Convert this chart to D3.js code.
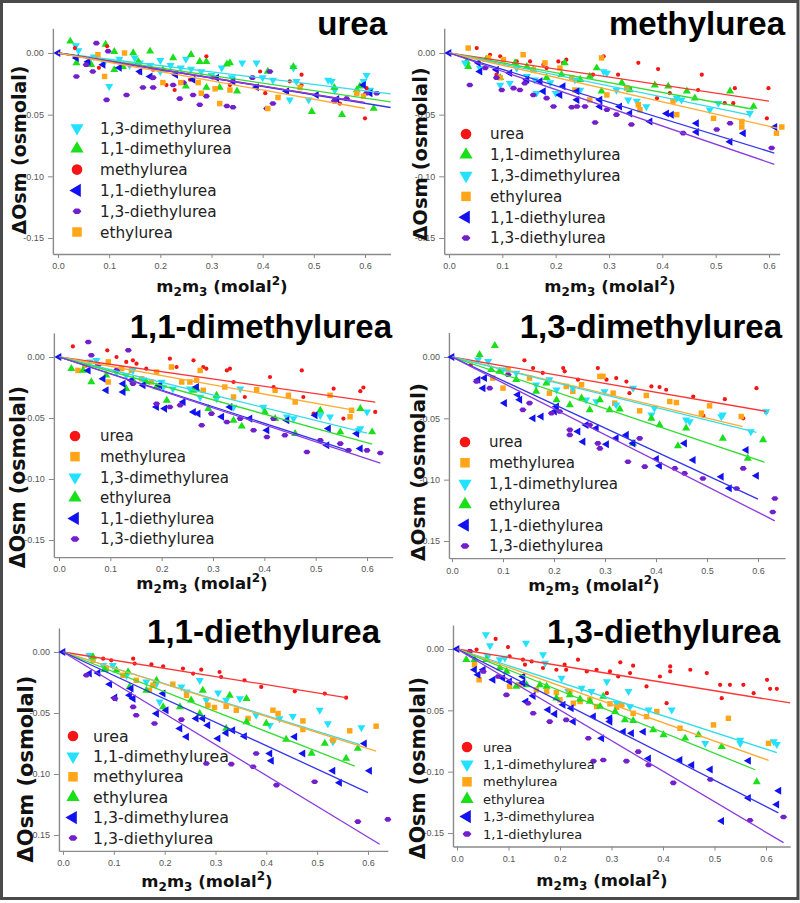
<!DOCTYPE html>
<html><head><meta charset="utf-8">
<script src="https://cdn.jsdelivr.net/npm/d3@7"></script>
<style>body{margin:0;background:#fff}</style>
</head><body>
<svg id="chart" width="800" height="903"></svg>
<script>
// ---------------- DATA ----------------
const panelTitles = ["urea","methylurea","1,1-dimethylurea","1,3-dimethylurea","1,1-diethylurea","1,3-diethylurea"];
const xTicks = [0,0.1,0.2,0.3,0.4,0.5,0.6];
const yTicks = [0,-0.05,-0.10,-0.15];
const yTickLabels = ["0.00","-0.05","-0.10","-0.15"];

const legendUrea = ["1,3-dimethylurea","1,1-dimethylurea","methylurea","1,1-diethylurea","1,3-diethylurea","ethylurea"];
const legendMethyl = ["urea","1,1-dimethylurea","1,3-dimethylurea","ethylurea","1,1-diethylurea","1,3-diethylurea"];
const legend11DM = ["urea","methylurea","1,3-dimethylurea","ethylurea","1,1-diethylurea","1,3-diethylurea"];
const legend13DM = ["urea","methylurea","1,1-dimethylurea","ethylurea","1,1-diethylurea","1,3-diethylurea"];
const legend11DE = ["urea","1,1-dimethylurea","methylurea","ethylurea","1,3-dimethylurea","1,3-diethylurea"];
const legend13DE = ["urea","1,1-dimethylurea","methylurea","ethylurea","1,3-dimethylurea","1,1-diethylurea"];

// fitted slopes (osmolal per molal^2) and x where each fitted line ends, in legend order
const slopesUrea = [-0.051,-0.061,-0.067,-0.068,-0.067,-0.075];
const endsUrea   = [0.65,0.65,0.60,0.65,0.60,0.60];
const slopesMethyl = [-0.065,-0.080,-0.089,-0.099,-0.133,-0.148];
const endsMethyl   = [0.60,0.57,0.565,0.615,0.61,0.61];
const slopes11DM = [-0.060,-0.076,-0.104,-0.117,-0.136,-0.139];
const ends11DM   = [0.616,0.574,0.60,0.61,0.564,0.626];
const slopes13DM = [-0.072,-0.0995,-0.103,-0.140,-0.193,-0.211];
const ends13DM   = [0.616,0.57,0.597,0.613,0.60,0.633];
const slopes11DE = [-0.067,-0.130,-0.132,-0.163,-0.192,-0.253];
const ends11DE   = [0.557,0.584,0.616,0.574,0.60,0.623];
const slopes13DE = [-0.068,-0.136,-0.150,-0.170,-0.214,-0.249];
const ends13DE   = [0.647,0.621,0.605,0.579,0.624,0.634];

// ---- points, panel "urea" ----
const ureaP1 = [[0.035,0.006],[0.04,0.002],[0.07,-0.003],[0.09,-0.008],[0.10,-0.027],[0.12,-0.005],[0.14,-0.010],[0.15,-0.004],[0.16,-0.008],[0.18,-0.010],[0.20,-0.006],[0.20,-0.015],[0.22,-0.010],[0.24,-0.012],[0.25,-0.005],[0.26,-0.013],[0.28,-0.015],[0.30,-0.018],[0.32,-0.012],[0.34,-0.020],[0.36,-0.008],[0.388,-0.008],[0.40,-0.020],[0.42,-0.022],[0.453,-0.038],[0.46,-0.012],[0.466,-0.023],[0.49,-0.038],[0.528,-0.022],[0.535,-0.023],[0.541,-0.030],[0.597,-0.023],[0.603,-0.018],[0.61,-0.030]];
const ureaP2 = [[0.024,0.0095],[0.036,-0.008],[0.065,-0.0095],[0.093,0.007],[0.11,0.001],[0.11,-0.0136],[0.127,-0.011],[0.147,0],[0.157,-0.007],[0.18,0.0014],[0.205,-0.0136],[0.225,-0.004],[0.25,-0.027],[0.26,-0.0014],[0.277,-0.007],[0.29,-0.007],[0.29,-0.028],[0.316,-0.028],[0.33,-0.009],[0.336,-0.008],[0.35,-0.031],[0.41,-0.015],[0.46,-0.011],[0.496,-0.0475],[0.54,-0.028],[0.555,-0.050],[0.584,-0.030],[0.59,-0.027],[0.617,-0.045]];
const ureaP3 = [[0.033,0.004],[0.08,-0.012],[0.096,0.0054],[0.14,-0.0095],[0.16,-0.016],[0.186,-0.0136],[0.212,-0.026],[0.228,-0.03],[0.258,-0.0217],[0.29,-0.0027],[0.303,-0.020],[0.336,-0.026],[0.395,-0.015],[0.405,-0.0326],[0.453,-0.023],[0.476,-0.0176],[0.476,-0.026],[0.551,-0.041],[0.6,-0.053],[0.603,-0.0285]];
const ureaP4 = [[0,0],[0.036,-0.004],[0.059,-0.007],[0.088,-0.0095],[0.12,-0.012],[0.16,-0.015],[0.18,-0.019],[0.23,-0.0176],[0.264,-0.0217],[0.31,-0.020],[0.342,-0.023],[0.388,-0.0277],[0.447,-0.031],[0.505,-0.034],[0.545,-0.0374],[0.597,-0.026],[0.61,-0.0326]];
const ureaP5 = [[0.036,-0.019],[0.055,-0.0095],[0.068,-0.015],[0.075,0.008],[0.095,-0.038],[0.098,0.0014],[0.134,-0.034],[0.166,-0.028],[0.186,-0.028],[0.186,-0.020],[0.225,-0.026],[0.238,-0.037],[0.245,-0.024],[0.264,-0.034],[0.277,-0.042],[0.29,-0.035],[0.33,-0.043],[0.342,-0.044],[0.38,-0.020],[0.408,-0.045],[0.414,-0.015],[0.42,-0.041],[0.54,-0.039],[0.564,-0.037],[0.603,-0.0326],[0.623,-0.0326]];
const ureaP6 = [[0.078,-0.0014],[0.091,-0.019],[0.13,0],[0.205,-0.024],[0.24,-0.024],[0.274,-0.024],[0.28,-0.0326],[0.307,-0.029],[0.316,-0.041],[0.336,-0.030],[0.41,-0.045],[0.43,-0.036],[0.473,-0.028],[0.584,-0.0326],[0.597,-0.035]];

// ---- points, panel "methylurea" ----
const methylP1 = [[0.052,0.004],[0.077,-0.0014],[0.089,-0.0176],[0.096,-0.0027],[0.127,-0.0068],[0.152,-0.0068],[0.177,-0.0095],[0.183,-0.0122],[0.205,-0.0068],[0.214,-0.008],[0.22,-0.0054],[0.27,-0.0176],[0.29,-0.0027],[0.317,-0.0176],[0.339,-0.0285],[0.355,-0.008],[0.39,-0.0366],[0.392,-0.013],[0.414,-0.0326],[0.467,-0.030],[0.474,-0.0176],[0.517,-0.0407],[0.533,-0.0407],[0.536,-0.0285],[0.596,-0.053],[0.599,-0.0285]];
const methylP2 = [[0.033,-0.0068],[0.036,-0.011],[0.07,-0.005],[0.096,-0.020],[0.124,-0.008],[0.146,-0.011],[0.158,-0.0136],[0.183,-0.020],[0.211,-0.0176],[0.217,-0.008],[0.246,-0.0217],[0.264,-0.019],[0.277,-0.0122],[0.286,-0.031],[0.324,-0.024],[0.339,-0.030],[0.386,-0.026],[0.411,-0.027],[0.446,-0.031],[0.461,-0.0366],[0.527,-0.031],[0.571,-0.0434]];
const methylP3 = [[0.03,-0.008],[0.058,-0.0122],[0.096,-0.026],[0.114,-0.0245],[0.127,-0.0122],[0.146,-0.019],[0.161,-0.0217],[0.164,-0.0326],[0.19,-0.024],[0.2,-0.0326],[0.236,-0.0217],[0.246,-0.030],[0.29,-0.015],[0.296,-0.0163],[0.314,-0.030],[0.336,-0.038],[0.352,-0.039],[0.37,-0.0434],[0.427,-0.0366],[0.436,-0.038],[0.489,-0.046],[0.505,-0.0407],[0.564,-0.049]];
const methylP4 = [[0.036,0.004],[0.074,-0.004],[0.096,-0.020],[0.102,-0.0054],[0.139,-0.0014],[0.158,-0.0136],[0.18,-0.008],[0.208,-0.0122],[0.23,-0.020],[0.236,-0.030],[0.264,-0.038],[0.286,-0.004],[0.296,-0.034],[0.333,-0.0285],[0.355,-0.042],[0.358,-0.046],[0.42,-0.039],[0.427,-0.050],[0.496,-0.053],[0.549,-0.0556],[0.549,-0.060],[0.614,-0.065],[0.624,-0.060]];
const methylP5 = [[0,0],[0.055,-0.008],[0.058,-0.015],[0.089,-0.0136],[0.114,-0.0163],[0.146,-0.0217],[0.171,-0.023],[0.177,-0.031],[0.208,-0.034],[0.214,-0.027],[0.24,-0.031],[0.24,-0.038],[0.283,-0.038],[0.283,-0.0434],[0.32,-0.0434],[0.339,-0.049],[0.377,-0.0556],[0.408,-0.049],[0.417,-0.050],[0.464,-0.057],[0.464,-0.064],[0.527,-0.072],[0.552,-0.065],[0.611,-0.060]];
const methylP6 = [[0.039,-0.026],[0.068,-0.0122],[0.089,-0.020],[0.099,-0.030],[0.121,-0.0285],[0.133,-0.030],[0.142,-0.0245],[0.158,-0.034],[0.183,-0.0366],[0.196,-0.0434],[0.23,-0.044],[0.24,-0.0434],[0.255,-0.0434],[0.274,-0.0564],[0.296,-0.046],[0.314,-0.050],[0.342,-0.058],[0.439,-0.065],[0.502,-0.062],[0.527,-0.057],[0.605,-0.077]];

// ---- points, panel "1,1-dimethylurea" ----
const dm11P1 = [[0.027,0.0087],[0.094,0.0055],[0.112,0],[0.131,-0.004],[0.144,-0.0027],[0.151,-0.0055],[0.17,-0.0096],[0.216,-0.0014],[0.229,-0.0082],[0.262,-0.0027],[0.281,-0.0082],[0.287,-0.0096],[0.327,-0.011],[0.333,-0.0096],[0.34,-0.0205],[0.362,-0.0328],[0.411,-0.0164],[0.418,-0.0246],[0.473,-0.011],[0.476,-0.0328],[0.496,-0.0464],[0.535,-0.026],[0.554,-0.0505],[0.587,-0.028],[0.593,-0.025],[0.616,-0.045]];
const dm11P2 = [[0.037,-0.011],[0.05,-0.0068],[0.096,-0.004],[0.096,-0.0205],[0.122,-0.0096],[0.141,-0.011],[0.161,-0.0178],[0.18,-0.0205],[0.19,-0.0123],[0.219,-0.0082],[0.239,-0.0205],[0.255,-0.0205],[0.268,-0.019],[0.275,-0.011],[0.281,-0.0273],[0.323,-0.0246],[0.34,-0.0328],[0.385,-0.0268],[0.421,-0.0273],[0.447,-0.0314],[0.46,-0.0369],[0.528,-0.0314],[0.567,-0.049],[0.57,-0.0437]];
const dm11P3 = [[0.06,-0.004],[0.073,-0.0027],[0.112,-0.0123],[0.131,-0.015],[0.144,-0.011],[0.164,-0.019],[0.2,-0.0205],[0.203,-0.0246],[0.222,-0.026],[0.255,-0.026],[0.275,-0.0328],[0.307,-0.0341],[0.34,-0.041],[0.353,-0.026],[0.398,-0.041],[0.444,-0.049],[0.457,-0.0505],[0.509,-0.0478],[0.528,-0.049],[0.584,-0.060],[0.587,-0.0587],[0.6,-0.045]];
const dm11P4 = [[0.024,-0.0096],[0.047,-0.011],[0.063,-0.0205],[0.092,-0.015],[0.131,-0.026],[0.144,-0.019],[0.17,-0.0205],[0.19,-0.0246],[0.21,-0.0355],[0.262,-0.0273],[0.268,-0.026],[0.291,-0.0423],[0.307,-0.0314],[0.34,-0.0519],[0.356,-0.0568],[0.401,-0.045],[0.421,-0.0505],[0.46,-0.0628],[0.509,-0.0437],[0.548,-0.0615],[0.587,-0.0423],[0.61,-0.0615]];
const dm11P5 = [[0,0],[0.057,-0.011],[0.086,-0.0178],[0.092,-0.0273],[0.125,-0.0219],[0.125,-0.0287],[0.141,-0.019],[0.164,-0.0232],[0.19,-0.041],[0.196,-0.0232],[0.206,-0.0423],[0.242,-0.0369],[0.262,-0.045],[0.268,-0.0246],[0.271,-0.0464],[0.317,-0.049],[0.333,-0.041],[0.372,-0.0505],[0.405,-0.060],[0.444,-0.0519],[0.499,-0.0478],[0.522,-0.0724],[0.525,-0.0587],[0.58,-0.0628],[0.587,-0.0751]];
const dm11P6 = [[0.057,0.0123],[0.063,0.0014],[0.076,-0.0068],[0.112,-0.011],[0.135,0.0055],[0.144,-0.0219],[0.19,-0.0383],[0.216,-0.041],[0.236,-0.0396],[0.278,-0.056],[0.297,-0.0464],[0.327,-0.0533],[0.353,-0.0505],[0.379,-0.060],[0.405,-0.0656],[0.418,-0.0505],[0.44,-0.0642],[0.483,-0.0779],[0.509,-0.0683],[0.548,-0.071],[0.564,-0.0765],[0.6,-0.0765],[0.626,-0.0787]];

// ---- points, panel "1,3-dimethylurea" ----
const dm13P1 = [[0.037,-0.0063],[0.054,0.001],[0.142,-0.0027],[0.159,-0.009],[0.178,-0.013],[0.218,-0.009],[0.221,-0.0117],[0.247,-0.0185],[0.286,-0.009],[0.303,-0.0185],[0.322,-0.0172],[0.342,-0.020],[0.348,-0.0295],[0.391,-0.024],[0.407,-0.0245],[0.42,-0.0267],[0.473,-0.0322],[0.493,-0.048],[0.535,-0.0344],[0.571,-0.050],[0.597,-0.0254],[0.616,-0.045]];
const dm13P2 = [[0.08,-0.0172],[0.1,-0.0254],[0.11,-0.0104],[0.152,-0.0172],[0.191,-0.0295],[0.224,-0.024],[0.237,-0.028],[0.254,-0.0226],[0.29,-0.0158],[0.296,-0.0158],[0.316,-0.0295],[0.319,-0.0376],[0.368,-0.0439],[0.381,-0.0314],[0.427,-0.0363],[0.44,-0.0371],[0.489,-0.0458],[0.505,-0.0398],[0.567,-0.0485]];
const dm13P3 = [[0.051,-0.0022],[0.071,-0.0035],[0.1,-0.0104],[0.126,-0.0131],[0.165,-0.0226],[0.191,-0.0185],[0.205,-0.0267],[0.237,-0.0254],[0.263,-0.0349],[0.283,-0.0363],[0.299,-0.0281],[0.322,-0.039],[0.355,-0.0254],[0.391,-0.0472],[0.397,-0.0417],[0.459,-0.0513],[0.466,-0.0526],[0.528,-0.0485],[0.531,-0.0472],[0.586,-0.0608],[0.616,-0.0444]];
const dm13P4 = [[0.054,0.0019],[0.077,-0.0104],[0.084,0.0093],[0.093,-0.0117],[0.126,-0.0185],[0.165,-0.028],[0.185,-0.0213],[0.205,-0.0431],[0.205,-0.0349],[0.231,-0.039],[0.254,-0.0335],[0.27,-0.0431],[0.29,-0.0349],[0.309,-0.0431],[0.329,-0.0425],[0.355,-0.0704],[0.391,-0.050],[0.407,-0.0554],[0.443,-0.0725],[0.459,-0.058],[0.531,-0.0663],[0.58,-0.0826],[0.61,-0.0676]];
const dm13P5 = [[0,0],[0.051,-0.0185],[0.061,-0.0254],[0.064,-0.0172],[0.103,-0.0376],[0.129,-0.0308],[0.133,-0.0349],[0.159,-0.050],[0.175,-0.0485],[0.201,-0.0444],[0.205,-0.0404],[0.247,-0.0608],[0.257,-0.069],[0.263,-0.0554],[0.283,-0.0581],[0.303,-0.0712],[0.322,-0.0663],[0.342,-0.0635],[0.355,-0.0704],[0.401,-0.0832],[0.407,-0.0886],[0.456,-0.0704],[0.473,-0.084],[0.528,-0.0976],[0.544,-0.107],[0.577,-0.0758],[0.597,-0.0968]];
const dm13P6 = [[0.048,-0.020],[0.074,-0.0254],[0.11,-0.0145],[0.139,-0.0431],[0.152,-0.0376],[0.195,-0.0458],[0.211,-0.0444],[0.231,-0.0594],[0.231,-0.0635],[0.27,-0.0554],[0.286,-0.0704],[0.29,-0.0745],[0.345,-0.0854],[0.368,-0.0663],[0.378,-0.0894],[0.437,-0.0908],[0.456,-0.0949],[0.492,-0.099],[0.558,-0.1072],[0.571,-0.0908],[0.629,-0.1263],[0.633,-0.1154]];

// ---- points, panel "1,1-diethylurea" ----
const de11P1 = [[0.052,-0.0027],[0.079,-0.0055],[0.095,-0.0068],[0.138,-0.0055],[0.141,-0.0095],[0.174,-0.0101],[0.197,-0.0117],[0.236,-0.0136],[0.256,-0.0177],[0.272,-0.0145],[0.308,-0.0164],[0.311,-0.0205],[0.357,-0.0232],[0.39,-0.0286],[0.456,-0.0322],[0.515,-0.0341],[0.557,-0.0374]];
const de11P2 = [[0.052,-0.0027],[0.079,-0.0109],[0.098,-0.0109],[0.125,-0.0191],[0.164,-0.0245],[0.184,-0.0259],[0.19,-0.0409],[0.233,-0.0286],[0.243,-0.0327],[0.269,-0.0232],[0.282,-0.0395],[0.305,-0.0335],[0.321,-0.0395],[0.348,-0.0382],[0.38,-0.0518],[0.407,-0.060],[0.426,-0.0545],[0.452,-0.0527],[0.505,-0.0477],[0.521,-0.0586],[0.531,-0.0736],[0.587,-0.0619]];
const de11P3 = [[0.059,-0.0068],[0.085,-0.0136],[0.118,-0.0191],[0.144,-0.0232],[0.17,-0.0314],[0.177,-0.0273],[0.216,-0.0264],[0.243,-0.0355],[0.285,-0.0436],[0.298,-0.0455],[0.321,-0.0445],[0.341,-0.0477],[0.364,-0.0545],[0.413,-0.0477],[0.423,-0.0505],[0.472,-0.0565],[0.472,-0.0635],[0.531,-0.0723],[0.564,-0.0646],[0.616,-0.0608]];
const de11P4 = [[0.059,-0.0041],[0.082,-0.0145],[0.105,-0.015],[0.128,-0.0164],[0.131,-0.0286],[0.164,-0.0314],[0.184,-0.0232],[0.197,-0.045],[0.23,-0.045],[0.252,-0.0395],[0.269,-0.0505],[0.275,-0.0314],[0.321,-0.0627],[0.328,-0.0355],[0.361,-0.0382],[0.361,-0.0573],[0.4,-0.0586],[0.439,-0.0717],[0.489,-0.0832],[0.515,-0.075],[0.557,-0.0873],[0.58,-0.0791]];
const de11P5 = [[0,0],[0.052,-0.0177],[0.069,-0.0172],[0.092,-0.0264],[0.102,-0.0374],[0.131,-0.0355],[0.134,-0.030],[0.138,-0.0382],[0.184,-0.0505],[0.197,-0.0341],[0.203,-0.0477],[0.23,-0.0627],[0.243,-0.0695],[0.262,-0.0545],[0.275,-0.0545],[0.285,-0.060],[0.305,-0.0709],[0.321,-0.0663],[0.334,-0.0641],[0.357,-0.069],[0.407,-0.0832],[0.41,-0.0892],[0.456,-0.0695],[0.472,-0.0832],[0.531,-0.0974],[0.544,-0.1072],[0.593,-0.075],[0.603,-0.0974]];
const de11P6 = [[0.046,-0.0191],[0.102,-0.0382],[0.138,-0.045],[0.144,-0.0518],[0.18,-0.0586],[0.233,-0.0554],[0.282,-0.0914],[0.331,-0.0919],[0.374,-0.0941],[0.38,-0.0832],[0.42,-0.1091],[0.495,-0.1064],[0.58,-0.139],[0.639,-0.1372]];

// ---- points, panel "1,3-diethylurea" ----
const de13P1 = [[0.038,-0.0005],[0.075,0.0082],[0.099,0.0016],[0.102,-0.006],[0.128,-0.0087],[0.132,-0.0128],[0.145,-0.0101],[0.167,-0.0155],[0.193,-0.0169],[0.209,-0.0128],[0.212,-0.0169],[0.235,-0.0087],[0.252,-0.0183],[0.271,-0.0169],[0.291,-0.036],[0.297,-0.0183],[0.313,-0.0224],[0.317,-0.0109],[0.336,-0.0196],[0.342,-0.0136],[0.368,-0.0305],[0.394,-0.0224],[0.407,-0.0442],[0.414,-0.0142],[0.414,-0.0183],[0.453,-0.0169],[0.485,-0.0196],[0.511,-0.0292],[0.514,-0.0401],[0.53,-0.0292],[0.556,-0.0292],[0.576,-0.036],[0.602,-0.0251],[0.608,-0.0325],[0.621,-0.0325]];
const de13P2 = [[0.056,0.0117],[0.06,-0.006],[0.064,0.0027],[0.083,-0.0087],[0.093,-0.0074],[0.134,0.0049],[0.167,-0.0046],[0.171,-0.0115],[0.203,-0.0237],[0.216,-0.0346],[0.242,-0.0319],[0.261,-0.0346],[0.291,-0.0265],[0.31,-0.0442],[0.333,-0.0346],[0.336,-0.0469],[0.372,-0.0496],[0.417,-0.0496],[0.482,-0.0769],[0.55,-0.0742],[0.55,-0.0769],[0.615,-0.0755],[0.621,-0.0777]];
const de13P3 = [[0.034,-0.0128],[0.043,-0.0251],[0.102,-0.0305],[0.122,-0.0292],[0.154,-0.0333],[0.174,-0.0346],[0.193,-0.0355],[0.2,-0.0415],[0.219,-0.0346],[0.226,-0.0442],[0.239,-0.0428],[0.258,-0.0415],[0.271,-0.0469],[0.297,-0.0447],[0.31,-0.0475],[0.32,-0.0455],[0.342,-0.0524],[0.368,-0.0551],[0.388,-0.051],[0.433,-0.0646],[0.498,-0.0619],[0.527,-0.0565],[0.605,-0.0769]];
const de13P4 = [[0.018,-0.0087],[0.034,-0.0087],[0.057,-0.0087],[0.083,-0.0155],[0.096,-0.0183],[0.115,-0.0305],[0.135,-0.0292],[0.161,-0.0292],[0.174,-0.0305],[0.193,-0.0401],[0.219,-0.0374],[0.239,-0.0409],[0.258,-0.0428],[0.278,-0.0469],[0.284,-0.0387],[0.307,-0.051],[0.326,-0.0578],[0.342,-0.0584],[0.381,-0.066],[0.401,-0.0701],[0.443,-0.0728],[0.469,-0.0701],[0.514,-0.0796],[0.582,-0.1083]];
const de13P5 = [[0,0],[0.034,-0.0169],[0.041,-0.021],[0.051,-0.0169],[0.07,-0.0251],[0.089,-0.0237],[0.102,-0.0265],[0.128,-0.0224],[0.128,-0.0278],[0.134,-0.0428],[0.148,-0.0382],[0.177,-0.0496],[0.19,-0.0529],[0.206,-0.0455],[0.222,-0.0483],[0.226,-0.0592],[0.265,-0.0551],[0.281,-0.0728],[0.297,-0.0565],[0.297,-0.0592],[0.323,-0.0674],[0.339,-0.0687],[0.362,-0.0674],[0.372,-0.0892],[0.433,-0.0905],[0.456,-0.0946],[0.492,-0.0982],[0.514,-0.1402],[0.566,-0.1214],[0.566,-0.0911],[0.621,-0.1268],[0.625,-0.1156]];
const de13P6 = [[0.025,-0.0019],[0.051,-0.0183],[0.08,-0.0224],[0.096,-0.0374],[0.138,-0.0442],[0.148,-0.0524],[0.18,-0.0592],[0.212,-0.0578],[0.255,-0.0728],[0.265,-0.0914],[0.284,-0.0905],[0.329,-0.0914],[0.352,-0.0837],[0.372,-0.0946],[0.42,-0.1091],[0.492,-0.1064],[0.569,-0.1396],[0.634,-0.1369]];

// ---------------- STYLE / LAYOUT ----------------
const styles = {
  red:    {fill:"#f51515", line:"#ff3535", shape:"circle"},
  green:  {fill:"#19e019", line:"#33dd33", shape:"up"},
  cyan:   {fill:"#22e2ff", line:"#33dde8", shape:"down"},
  orange: {fill:"#ffa516", line:"#ffab33", shape:"square"},
  blue:   {fill:"#1212f0", line:"#3434ee", shape:"left"},
  purple: {fill:"#7320cc", line:"#8a3ade", shape:"diamond"}
};
const panelKinds = [
  ["cyan","green","red","blue","purple","orange"],
  ["red","green","cyan","orange","blue","purple"],
  ["red","orange","cyan","green","blue","purple"],
  ["red","orange","cyan","green","blue","purple"],
  ["red","cyan","orange","green","blue","purple"],
  ["red","cyan","orange","green","blue","purple"]
];
const layout = [
  {x0:58,x6:365,y0:53,y15:238,xMin:-0.01,xMax:0.65,yMax:0.02,yMin:-0.163,tX:387,tY:35,lX:77,lTX:100,lY:128,lDy:20.8,lF:15.3,xlX:222,xlY:292,ylX:19,ylY:150,ylF:19},
  {x0:449,x6:769,y0:53,y15:238,xMin:-0.009,xMax:0.62,yMax:0.02,yMin:-0.163,tX:785,tY:35,lX:466,lTX:490,lY:134,lDy:20.8,lF:15.2,xlX:610,xlY:292,ylX:420,ylY:154,ylF:19.5},
  {x0:59,x6:367,y0:357,y15:540,xMin:-0.01,xMax:0.65,yMax:0.0197,yMin:-0.164,tX:392,tY:338,lX:75,lTX:100,lY:436,lDy:20.6,lF:15,xlX:202,xlY:589,ylX:18,ylY:477,ylF:20.5},
  {x0:452,x6:758,y0:357,y15:541,xMin:-0.006,xMax:0.653,yMax:0.02,yMin:-0.164,tX:782,tY:338,lX:465,lTX:489,lY:442,lDy:20.8,lF:15,xlX:594,xlY:591,ylX:418,ylY:472,ylF:20},
  {x0:63,x6:368,y0:652,y15:835,xMin:-0.008,xMax:0.639,yMax:0.0197,yMin:-0.163,tX:380,tY:643,lX:73,lTX:93,lY:736,lDy:20.4,lF:15.8,xlX:207,xlY:887,ylX:25,ylY:769,ylF:21},
  {x0:457,x6:766,y0:649,y15:833,xMin:-0.0078,xMax:0.647,yMax:0.0195,yMin:-0.161,tX:780,tY:643,lX:467,lTX:483,lY:747,lDy:17.4,lF:13,xlX:602,xlY:886,ylX:418,ylY:768,ylF:20.5}
];

const legends = [legendUrea,legendMethyl,legend11DM,legend13DM,legend11DE,legend13DE];
const slopes = [slopesUrea,slopesMethyl,slopes11DM,slopes13DM,slopes11DE,slopes13DE];
const ends = [endsUrea,endsMethyl,ends11DM,ends13DM,ends11DE,ends13DE];
const points = [
  [ureaP1,ureaP2,ureaP3,ureaP4,ureaP5,ureaP6],
  [methylP1,methylP2,methylP3,methylP4,methylP5,methylP6],
  [dm11P1,dm11P2,dm11P3,dm11P4,dm11P5,dm11P6],
  [dm13P1,dm13P2,dm13P3,dm13P4,dm13P5,dm13P6],
  [de11P1,de11P2,de11P3,de11P4,de11P5,de11P6],
  [de13P1,de13P2,de13P3,de13P4,de13P5,de13P6]
];

// ---------------- DRAW ----------------
const svg = d3.select("#chart");
svg.append("rect").attr("x",0).attr("y",0).attr("width",800).attr("height",903).attr("fill","#fff");

function markerPath(shape, big){
  if(shape==="square") return d3.symbol(d3.symbolSquare, big?90:30)();
  if(shape==="diamond"){
    const w = big?4.5:3.6, h = big?2.8:2.3;
    return `M${-w},0L${-w*0.45},${-h}L${w*0.45},${-h}L${w},0L${w*0.45},${h}L${-w*0.45},${h}Z`;
  }
  return d3.symbol(d3.symbolTriangle, big?75:28)();
}
function drawMarker(g, shape, color, x, y, big){
  if(shape==="circle"){
    g.append("circle").attr("cx",x).attr("cy",y).attr("r",big?5.3:2.1).attr("fill",color);
    return;
  }
  const rot = shape==="down"?180:(shape==="left"?-90:0);
  g.append("path").attr("d",markerPath(shape,big))
   .attr("transform",`translate(${x},${y}) rotate(${rot})`).attr("fill",color);
}

panelTitles.forEach((title,pi)=>{
  const L = layout[pi];
  const kx = (L.x6-L.x0)/0.6, ky = (L.y15-L.y0)/(-0.15);
  const x = d3.scaleLinear().domain([L.xMin,L.xMax]).range([L.x0+L.xMin*kx, L.x0+L.xMax*kx]);
  const y = d3.scaleLinear().domain([L.yMax,L.yMin]).range([L.y0+L.yMax*ky, L.y0+L.yMin*ky]);
  const g = svg.append("g");

  // axes
  const xAxis = d3.axisBottom(x).tickValues(xTicks).tickFormat(d3.format(".1f")).tickSizeInner(4).tickSizeOuter(0).tickPadding(5);
  const yAxis = d3.axisLeft(y).tickValues(yTicks).tickSizeInner(5).tickSizeOuter(0).tickPadding(4);
  const gx = g.append("g").attr("transform",`translate(0,${y(L.yMin)})`).call(xAxis);
  const gy = g.append("g").attr("transform",`translate(${x(L.xMin)},0)`).call(yAxis);
  [gx,gy].forEach(a=>{
    a.select(".domain").attr("stroke","#8a8a8a").attr("stroke-width",1.4);
    a.selectAll(".tick line").attr("stroke","#8a8a8a").attr("stroke-width",1);
    a.selectAll(".tick text").attr("fill","#555").attr("font-family","Liberation Sans, Arial, sans-serif").attr("font-size",9);
  });
  gy.selectAll(".tick text").text(d => yTickLabels[yTicks.findIndex(v => Math.abs(v-d) < 1e-9)]);

  // points
  const kinds = panelKinds[pi];
  const pg = g.append("g");
  points[pi].forEach((ser,si)=>{
    const st = styles[kinds[si]];
    ser.forEach(p=> drawMarker(pg, st.shape, st.fill, x(p[0]), y(p[1]), false));
  });
  // fit lines
  const line = d3.line().x(d=>x(d[0])).y(d=>y(d[1]));
  slopes[pi].forEach((s,si)=>{
    const st = styles[kinds[si]];
    const e = ends[pi][si];
    g.append("path").attr("d", line([[0,0],[e, s*e]])).attr("stroke",st.line).attr("stroke-width",1.3).attr("fill","none");
  });

  // legend
  legends[pi].forEach((lab,si)=>{
    const st = styles[kinds[si]];
    const ly = L.lY + si*L.lDy;
    drawMarker(g, st.shape, st.fill, L.lX, ly, true);
    g.append("text").attr("x",L.lTX).attr("y",ly).attr("dy","0.36em")
      .attr("font-family","DejaVu Sans, sans-serif").attr("font-size",L.lF).attr("fill","#222").text(lab);
  });

  // title
  g.append("text").attr("x",L.tX).attr("y",L.tY).attr("text-anchor","end")
    .attr("font-family","Liberation Sans, Arial, sans-serif").attr("font-weight","bold").attr("font-size",33).attr("fill","#000").text(title);

  // y label
  g.append("text").attr("transform",`translate(${L.ylX},${L.ylY}) rotate(-90)`).attr("text-anchor","middle").attr("dy","0.36em")
    .attr("font-family","DejaVu Sans, sans-serif").attr("font-weight","bold").attr("font-size",L.ylF).attr("fill","#111").text("ΔOsm (osmolal)");

  // x label
  const xl = g.append("text").attr("x",L.xlX).attr("y",L.xlY).attr("text-anchor","middle")
    .attr("font-family","DejaVu Sans, sans-serif").attr("font-weight","bold").attr("font-size",16.5).attr("fill","#111");
  xl.append("tspan").text("m");
  xl.append("tspan").attr("dy",4).attr("font-size",12).text("2");
  xl.append("tspan").attr("dy",-4).text("m");
  xl.append("tspan").attr("dy",4).attr("font-size",12).text("3");
  xl.append("tspan").attr("dy",-4).text(" (molal");
  xl.append("tspan").attr("dy",-7).attr("font-size",12).text("2");
  xl.append("tspan").attr("dy",7).text(")");
});

// frame
svg.append("rect").attr("x",1.5).attr("y",1.5).attr("width",796.5).attr("height",897).attr("fill","none").attr("stroke","#4a4a4a").attr("stroke-width",3);
</script>
</body></html>
